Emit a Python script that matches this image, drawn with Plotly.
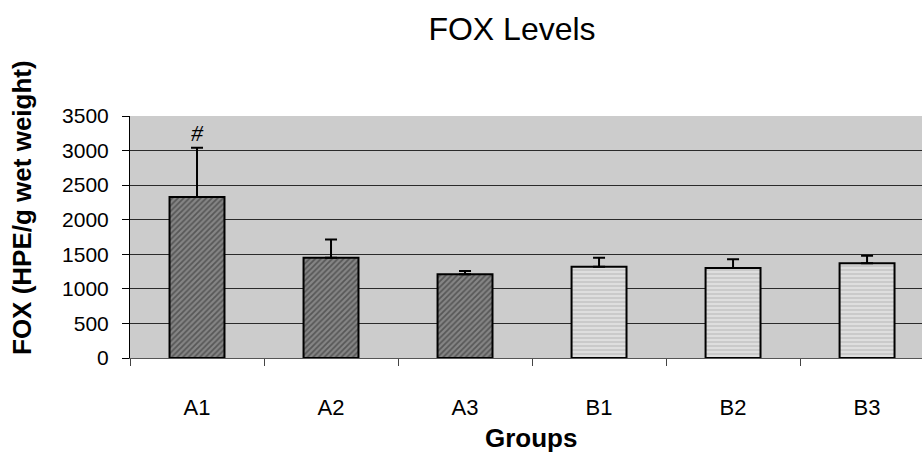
import plotly.graph_objects as go

groups = ["A1", "A2", "A3", "B1", "B2", "B3"]
fox_mean = [2330, 1450, 1210, 1320, 1300, 1370]
fox_err = [710, 265, 50, 130, 130, 110]
y_ticks = [0, 500, 1000, 1500, 2000, 2500, 3000, 3500]

a_idx = [0, 1, 2]
b_idx = [3, 4, 5]

fig = go.Figure()

fig.add_trace(go.Bar(
    x=[groups[i] for i in a_idx],
    y=[fox_mean[i] for i in a_idx],
    width=0.41,
    marker=dict(
        color="#808080",
        line=dict(color="black", width=2),
        pattern=dict(shape="/", bgcolor="#858585", fgcolor="#2a2a2a", size=4, solidity=0.45),
    ),
    error_y=dict(type="data", symmetric=False,
                 array=[fox_err[i] for i in a_idx],
                 arrayminus=[0] * len(a_idx),
                 color="black", thickness=2, width=6),
    showlegend=False,
))

fig.add_trace(go.Bar(
    x=[groups[i] for i in b_idx],
    y=[fox_mean[i] for i in b_idx],
    width=0.41,
    marker=dict(
        color="#dedede",
        line=dict(color="black", width=2),
        pattern=dict(shape="-", bgcolor="#dedede", fgcolor="#9a9a9a", size=4, solidity=0.3),
    ),
    error_y=dict(type="data", symmetric=False,
                 array=[fox_err[i] for i in b_idx],
                 arrayminus=[0] * len(b_idx),
                 color="black", thickness=2, width=6),
    showlegend=False,
))

# significance mark above A1
fig.add_annotation(
    x=groups[0], y=fox_mean[0] + fox_err[0], text="<i>#</i>",
    showarrow=False, yanchor="bottom", yshift=0,
    font=dict(family="Liberation Serif", size=24, color="black"),
)

fig.update_layout(
    width=922, height=454,
    margin=dict(l=130, r=0, t=116, b=96),
    paper_bgcolor="white",
    plot_bgcolor="#cccccc",
    bargap=0.59,
    title=dict(text="FOX Levels", x=512 / 922, xanchor="center", y=1 - 29 / 454, yanchor="middle",
               font=dict(family="Liberation Sans", size=32, color="black")),
    font=dict(family="Liberation Sans", color="black"),
)

fig.update_xaxes(
    categoryorder="array", categoryarray=groups,
    range=[-0.5, 5.41],
    tickson="boundaries", ticks="outside", ticklen=7, tickcolor="#444",
    showline=True, linecolor="#555", linewidth=1,
    tickfont=dict(size=22, color="black"),
    ticklabelstandoff=30,
    showgrid=False,
)

fig.update_yaxes(
    range=[0, 3500], tickvals=y_ticks,
    ticks="outside", ticklen=7, tickcolor="black",
    showline=True, linecolor="black", linewidth=1,
    showgrid=True, gridcolor="#2a2a2a", gridwidth=1,
    tickfont=dict(size=21, color="black"),
    ticklabelstandoff=9,
    zeroline=False,
)

# axis titles
fig.add_annotation(
    xref="paper", yref="paper", x=-108 / 792, y=(358 - 208) / 242,
    text="<b>FOX (HPE/g wet weight)</b>", textangle=-90, showarrow=False,
    xanchor="center", yanchor="middle",
    font=dict(family="Liberation Sans", size=26, color="black"),
)
fig.add_annotation(
    xref="paper", yref="paper", x=(531 - 130) / 792, y=-(438 - 358) / 242,
    text="<b>Groups</b>", showarrow=False,
    xanchor="center", yanchor="middle",
    font=dict(family="Liberation Sans", size=26, color="black"),
)

fig.write_html("out.html")
